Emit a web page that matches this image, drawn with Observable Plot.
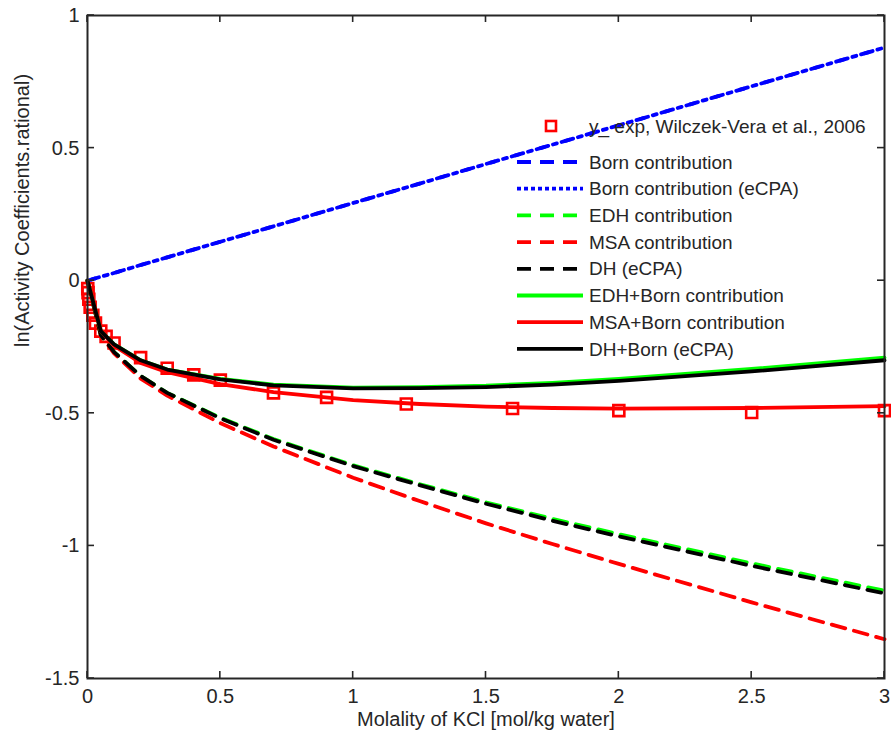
<!DOCTYPE html>
<html><head><meta charset="utf-8">
<script src="https://cdn.jsdelivr.net/npm/d3@7"></script>
<script src="https://cdn.jsdelivr.net/npm/@observablehq/plot@0.6"></script>
<style>
body{margin:0;background:#fff;}
svg{font-family:"Liberation Sans",Arial,Helvetica,sans-serif;}
</style>
</head><body><div id="chart"></div>
<script>
// ---- data ----
const molality = [0, 0.05, 0.1, 0.2, 0.3, 0.5, 0.7, 1, 1.25, 1.5, 1.75, 2, 2.5, 3];
const bornContribution     = [0, 0.015, 0.029, 0.059, 0.088, 0.147, 0.205, 0.293, 0.366, 0.440, 0.513, 0.586, 0.733, 0.879];
const bornContributionECPA = [0, 0.015, 0.029, 0.059, 0.088, 0.147, 0.205, 0.293, 0.366, 0.440, 0.513, 0.586, 0.733, 0.879];
const edhContribution      = [0, -0.205, -0.269, -0.359, -0.423, -0.517, -0.597, -0.696, -0.767, -0.836, -0.898, -0.956, -1.066, -1.169];
const msaContribution      = [0, -0.205, -0.274, -0.369, -0.433, -0.537, -0.625, -0.743, -0.831, -0.915, -0.993, -1.068, -1.213, -1.352];
const dhECPA               = [0, -0.205, -0.269, -0.359, -0.423, -0.519, -0.600, -0.699, -0.771, -0.841, -0.905, -0.964, -1.075, -1.179];
const edhBorn              = [0, -0.19, -0.24, -0.30, -0.335, -0.370, -0.392, -0.403, -0.401, -0.396, -0.385, -0.370, -0.333, -0.290];
const msaBorn              = [0, -0.19, -0.245, -0.31, -0.345, -0.390, -0.420, -0.450, -0.465, -0.475, -0.480, -0.482, -0.480, -0.473];
const dhBornECPA           = [0, -0.19, -0.24, -0.30, -0.335, -0.372, -0.395, -0.406, -0.405, -0.401, -0.392, -0.378, -0.342, -0.300];

const expMolality = [0.001, 0.002, 0.005, 0.01, 0.02, 0.03, 0.05, 0.07, 0.1, 0.2, 0.3, 0.4, 0.5, 0.7, 0.9, 1.2, 1.6, 2.0, 2.5, 3.0];
const expLnGamma  = [-0.03, -0.045, -0.07, -0.10, -0.13, -0.16, -0.19, -0.21, -0.235, -0.29, -0.33, -0.355, -0.375, -0.423, -0.44, -0.465, -0.482, -0.49, -0.497, -0.49];

const xTicks = [0, 0.5, 1, 1.5, 2, 2.5, 3];
const yTicks = [-1.5, -1, -0.5, 0, 0.5, 1];

const xLabel = "Molality of KCl [mol/kg water]";
const yLabel = "ln(Activity Coefficients.rational)";
const expLabel = "y_ exp, Wilczek-Vera et al., 2006";
const seriesNames = ["Born contribution", "Born contribution (eCPA)", "EDH contribution", "MSA contribution",
  "DH (eCPA)", "EDH+Born contribution", "MSA+Born contribution", "DH+Born (eCPA)"];
const seriesValues = [bornContribution, bornContributionECPA, edhContribution, msaContribution,
  dhECPA, edhBorn, msaBorn, dhBornECPA];
// styles (separate from data)
const seriesColors = ["#0000ff", "#0000ff", "#00ff00", "#ff0000", "#000000", "#00ff00", "#ff0000", "#000000"];
const seriesDash   = ["12,14", "4,9", "14,9", "14,9", "14,9", null, null, null];
const seriesDashOffset = [0, 9, 0, 0, 0, 0, 0, 0];
const legendDash   = ["14,9", "4,3", "14,9", "14,9", "14,9", null, null, null];

// ---- build tables ----
const lines = seriesNames.flatMap((name, i) =>
  molality.map((m, j) => ({series: name, idx: i, x: m, y: seriesValues[i][j]})));
const expData = expMolality.map((m, j) => ({x: m, y: expLnGamma[j]}));

const W = 891, H = 747;
const fmt = d => String(d);
const ink = "#262626";

const marks = [
  Plot.dot(expData, {x: "x", y: "y", symbol: "square", r: 6.2, stroke: "#ff0000", strokeWidth: 2.6, fill: "none"}),
  ...seriesNames.map((name, i) => Plot.line(lines.filter(d => d.idx === i), {
    x: "x", y: "y", stroke: seriesColors[i], strokeWidth: 3.8,
    strokeDasharray: seriesDash[i] || undefined, strokeDashoffset: seriesDashOffset[i], strokeLinejoin: "round"
  })),
  Plot.frame({stroke: ink, strokeWidth: 2}),
  Plot.axisX(xTicks, {anchor: "bottom", tickSize: 0, tickPadding: 10, tickFormat: fmt, fontSize: 20, fill: ink, label: null}),
  Plot.axisY(yTicks, {anchor: "left", tickSize: 0, tickPadding: 8, tickFormat: fmt, fontSize: 20, fill: ink, label: null}),
  Plot.text([xLabel], {text: d => d, frameAnchor: "bottom", dy: 41, fontSize: 20, fill: ink, lineAnchor: "middle"}),
  Plot.text([yLabel], {text: d => d, frameAnchor: "left", dx: -65, rotate: -90, fontSize: 20, fill: ink, lineAnchor: "middle"})
];

const chart = Plot.plot({
  width: W, height: H,
  marginLeft: 87, marginRight: 7, marginTop: 15, marginBottom: 69,
  style: {fontFamily: '"Liberation Sans", Arial, sans-serif', fontSize: "20px", color: ink, background: "#fff"},
  x: {domain: [0, 3], label: null},
  y: {domain: [-1.5, 1], label: null},
  marks
});

const svg = d3.select(chart);
const xs = chart.scale("x"), ys = chart.scale("y");
const [x0, x1] = xs.range, [y0, y1] = ys.range; // y0 bottom, y1 top
// ---- inward tick marks on all four sides ----
const tg = svg.append("g").attr("stroke", ink).attr("stroke-width", 1.6);
xTicks.forEach(v => {
  const px = xs.apply(v);
  tg.append("line").attr("x1", px).attr("x2", px).attr("y1", y0).attr("y2", y0 - 7);
  tg.append("line").attr("x1", px).attr("x2", px).attr("y1", y1).attr("y2", y1 + 7);
});
yTicks.forEach(v => {
  const py = ys.apply(v);
  tg.append("line").attr("x1", x0).attr("x2", x0 + 7).attr("y1", py).attr("y2", py);
  tg.append("line").attr("x1", x1).attr("x2", x1 - 7).attr("y1", py).attr("y2", py);
});

// ---- legend drawn inside the plot area ----
const lg = svg.append("g").attr("font-size", 19).attr("fill", ink).attr("text-anchor", "start");
const lx1 = 517, lx2 = 583, tx = 589;
lg.append("rect").attr("x", 551 - 5).attr("y", 126 - 5).attr("width", 10).attr("height", 10)
  .attr("fill", "none").attr("stroke", "#ff0000").attr("stroke-width", 2.6);
lg.append("text").attr("x", tx).attr("y", 126).attr("dy", "0.35em").text(expLabel);
seriesNames.forEach((name, i) => {
  const y = 162 + i * 26.7;
  lg.append("line").attr("x1", lx1).attr("x2", lx2).attr("y1", y).attr("y2", y)
    .attr("stroke", seriesColors[i]).attr("stroke-width", 3.8)
    .attr("stroke-dasharray", legendDash[i] || null);
  lg.append("text").attr("x", tx).attr("y", y).attr("dy", "0.35em").text(name);
});

document.getElementById("chart").appendChild(chart);
</script>
</body></html>
